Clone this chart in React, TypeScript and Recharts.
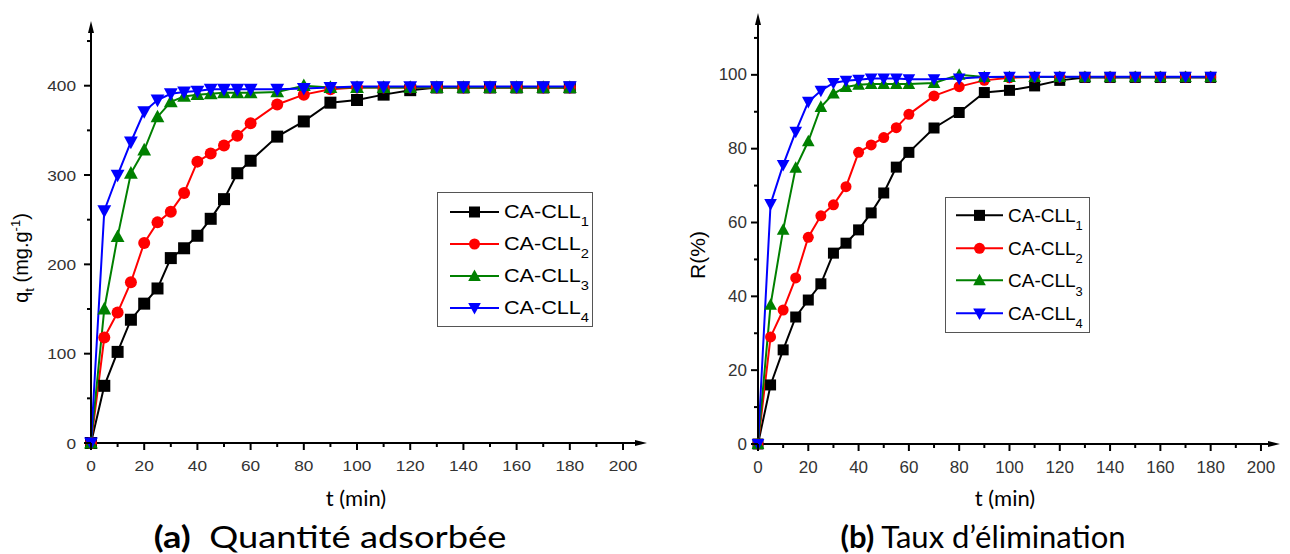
import React from "react";
import { LineChart, Line, XAxis, YAxis, Legend } from "recharts";

// sampling times (min)
const times = [0, 5, 10, 15, 20, 25, 30, 35, 40, 45, 50, 55, 60, 70, 80, 90, 100, 110, 120, 130, 140, 150, 160, 170, 180];

// (a) adsorbed quantity q_t (mg/g)
const qCll1 = [0, 64, 102, 138, 156, 173, 207, 218, 232, 251, 273, 302, 316, 343, 360, 381, 384, 390, 395, 398, 398, 398, 398, 398, 398];
const qCll2 = [0, 118, 146, 180, 224, 247, 259, 280, 315, 324, 333, 344, 358, 379, 390, 396, 398, 398, 398, 398, 398, 398, 398, 398, 398];
const qCll3 = [0, 150, 231, 302, 328, 365, 382, 388, 390, 391, 392, 392, 392, 393, 400, 398, 398, 398, 398, 398, 398, 398, 398, 398, 398];
const qCll4 = [0, 260, 300, 337, 371, 384, 391, 393, 394, 396, 396, 396, 396, 396, 397, 398, 399, 399, 399, 399, 399, 399, 399, 399, 399];

// (b) removal rate R (%)
const rCll1 = [0, 16, 25.5, 34.4, 39, 43.4, 51.7, 54.4, 58, 62.6, 68, 75, 79, 85.6, 89.8, 95.2, 95.8, 97, 98.5, 99.3, 99.3, 99.3, 99.3, 99.3, 99.3];
const rCll2 = [0, 29, 36.3, 45, 56, 61.8, 64.8, 69.7, 79, 81, 83, 85.7, 89.3, 94.3, 96.8, 98.5, 99.2, 99.4, 99.4, 99.4, 99.4, 99.4, 99.4, 99.4, 99.4];
const rCll3 = [0, 37.7, 58, 74.8, 82, 91.3, 94.9, 96.7, 97.3, 97.5, 97.5, 97.5, 97.5, 97.8, 100, 99.4, 99.4, 99.4, 99.4, 99.4, 99.4, 99.4, 99.4, 99.4, 99.4];
const rCll4 = [0, 65, 75.6, 84.6, 92.7, 95.7, 97.8, 98.4, 98.7, 99, 99, 99, 98.8, 98.8, 99, 99.4, 99.5, 99.5, 99.5, 99.5, 99.5, 99.5, 99.5, 99.5, 99.5];

const seriesKeys = ["c1", "c2", "c3", "c4"];
const seriesSubs = ["1", "2", "3", "4"];
const seriesColors = ["#000000", "#ff0000", "#008000", "#0000ff"];
const seriesShapes = ["square", "circle", "up", "down"];

const xTicks = [0, 10, 20, 30, 40, 50, 60, 70, 80, 90, 100, 110, 120, 130, 140, 150, 160, 170, 180, 190, 200];
const qTicks = [0, 50, 100, 150, 200, 250, 300, 350, 400, 450];
const rTicks = [0, 10, 20, 30, 40, 50, 60, 70, 80, 90, 100, 110];

const qData = times.map((t, i) => ({ t, c1: qCll1[i], c2: qCll2[i], c3: qCll3[i], c4: qCll4[i] }));
const rData = times.map((t, i) => ({ t, c1: rCll1[i], c2: rCll2[i], c3: rCll3[i], c4: rCll4[i] }));

const ARIAL = "'Liberation Sans', Arial, sans-serif";
const CAPTION = "Lato, 'Open Sans', sans-serif";

function Marker({ shape, cx, cy, size, color }: any) {
  const h = size / 2;
  if (shape === "square") return <rect x={cx - h} y={cy - h} width={size} height={size} fill={color} />;
  if (shape === "circle") return <circle cx={cx} cy={cy} r={h} fill={color} />;
  const k = shape === "up" ? 1 : -1;
  const pts = `${cx - h * 1.15},${cy + k * h * 0.9} ${cx + h * 1.15},${cy + k * h * 0.9} ${cx},${cy - k * h * 1.2}`;
  return <polygon points={pts} fill={color} />;
}

const makeXTick = (font: number, sx: number, gap: number) => (props: any) => {
  const { x, y, payload } = props;
  const v = payload.value;
  const major = v % 20 === 0;
  return (
    <g>
      <line x1={x} y1={y} x2={x} y2={y + (major ? 7 : 4)} stroke="#000" strokeWidth={2} />
      {major && (
        <text
          transform={`translate(${x},${y + gap}) scale(${sx},1)`}
          textAnchor="middle"
          dominantBaseline="central"
          fontSize={font}
          fontFamily={ARIAL}
          fill="#333"
        >
          {v}
        </text>
      )}
    </g>
  );
};

const makeYTick = (font: number, sx: number, gap: number, step: number) => (props: any) => {
  const { x, y, payload } = props;
  const v = payload.value;
  const major = v % step === 0;
  return (
    <g>
      <line x1={x} y1={y} x2={x - (major ? 7 : 4)} y2={y} stroke="#000" strokeWidth={2} />
      {major && (
        <text
          transform={`translate(${x - gap},${y}) scale(${sx},1)`}
          textAnchor="end"
          dominantBaseline="central"
          fontSize={font}
          fontFamily={ARIAL}
          fill="#333"
        >
          {v}
        </text>
      )}
    </g>
  );
};

const makeLegend = (font: number, sx: number, rowH: number, padTop: number, x1: number, x2: number, msize: number) => (props: any) => {
  const payload = props.payload || [];
  return (
    <div
      style={{
        width: "100%",
        height: "100%",
        boxSizing: "border-box",
        border: "1px solid #555",
        background: "#fff",
        paddingTop: padTop,
      }}
    >
      {payload.map((entry: any) => {
        const i = seriesKeys.indexOf(entry.dataKey);
        return (
          <div key={entry.dataKey} style={{ height: rowH, display: "flex", alignItems: "center" }}>
            <svg width={x2 + 1} height={rowH} style={{ display: "block", flex: "none" }}>
              <line x1={x1} x2={x2} y1={rowH / 2} y2={rowH / 2} stroke={seriesColors[i]} strokeWidth={2} />
              <Marker shape={seriesShapes[i]} cx={(x1 + x2) / 2} cy={rowH / 2} size={msize} color={seriesColors[i]} />
            </svg>
            <span
              style={{
                fontFamily: ARIAL,
                fontSize: font,
                color: "#000",
                marginLeft: 4,
                whiteSpace: "nowrap",
                lineHeight: 1,
                display: "inline-block",
                transform: `scaleX(${sx})`,
                transformOrigin: "left center",
              }}
            >
              CA-CLL
              <span style={{ fontSize: font * 0.68, position: "relative", top: font * 0.45 }}>{seriesSubs[i]}</span>
            </span>
          </div>
        );
      })}
    </div>
  );
};

function Panel(p: any) {
  return (
    <LineChart width={p.width} height={p.height} data={p.data} margin={p.margin}>
      <defs>
        <marker
          id={p.arrowId}
          viewBox="0 0 12 6"
          refX={0}
          refY={3}
          markerWidth={6}
          markerHeight={3}
          orient="auto-start-reverse"
        >
          <path d="M0,0 L12,3 L0,6 z" fill="#000" />
        </marker>
      </defs>
      <XAxis
        dataKey="t"
        type="number"
        domain={p.xDomain}
        ticks={xTicks}
        interval={0}
        height={p.xHeight}
        tickSize={0}
        tickMargin={0}
        tickLine={false}
        axisLine={{ stroke: "#000", strokeWidth: 2, markerEnd: `url(#${p.arrowId})` }}
        tick={makeXTick(p.tickFont, p.tickScale, p.xGap)}
      />
      <YAxis
        type="number"
        domain={p.yDomain}
        ticks={p.yTicks}
        interval={0}
        width={p.yWidth}
        tickSize={0}
        tickMargin={0}
        tickLine={false}
        axisLine={{ stroke: "#000", strokeWidth: 2, markerStart: `url(#${p.arrowId})` }}
        tick={makeYTick(p.tickFont, p.tickScale, p.yGap, p.yStep)}
      />
      <Legend
        layout="horizontal"
        verticalAlign="middle"
        align="center"
        wrapperStyle={p.legendStyle}
        content={makeLegend(p.legendFont, p.legendScale, p.rowH, p.padTop, p.lx1, p.lx2, 11)}
      />
      {seriesKeys.map((k, i) => (
        <Line
          key={k}
          dataKey={k}
          name={`CA-CLL${seriesSubs[i]}`}
          type="linear"
          stroke={seriesColors[i]}
          strokeWidth={2}
          isAnimationActive={false}
          activeDot={false}
          dot={(d: any) => (
            <Marker
              key={`${k}-${d.index}`}
              shape={seriesShapes[i]}
              cx={d.cx}
              cy={d.cy}
              size={p.markerSize}
              color={seriesColors[i]}
            />
          )}
        />
      ))}
    </LineChart>
  );
}

function Centered({ x, y, style, children }: any) {
  return (
    <div
      style={{
        position: "absolute",
        left: x,
        top: y,
        transform: "translate(-50%, -50%)",
        whiteSpace: "nowrap",
        lineHeight: 1,
        ...style,
      }}
    >
      {children}
    </div>
  );
}

export default function App() {
  return (
    <div
      style={{
        position: "absolute",
        left: 0,
        top: 0,
        width: 1290,
        height: 554,
        background: "#fff",
        overflow: "hidden",
      }}
    >
      <div style={{ position: "absolute", left: 0, top: 0 }}>
        <Panel
          data={qData}
          width={660}
          height={475}
          margin={{ top: 33, right: 25, bottom: 0, left: 31 }}
          yWidth={60}
          xHeight={32}
          xDomain={[0, 204.5]}
          yDomain={[0, 459]}
          yTicks={qTicks}
          yStep={100}
          tickFont={15}
          tickScale={1.15}
          xGap={22}
          yGap={15}
          markerSize={12}
          arrowId="arrowA"
          legendStyle={{ left: 437, top: 192, width: 156, height: 135 }}
          legendFont={18}
          legendScale={1.2}
          rowH={32}
          padTop={3}
          lx1={12}
          lx2={61}
        />
      </div>
      <div style={{ position: "absolute", left: 660, top: 0 }}>
        <Panel
          data={rData}
          width={630}
          height={475}
          margin={{ top: 25, right: 22, bottom: 0, left: 38 }}
          yWidth={60}
          xHeight={31}
          xDomain={[0, 202.8]}
          yDomain={[0, 113.5]}
          yTicks={rTicks}
          yStep={20}
          tickFont={17}
          tickScale={1}
          xGap={23}
          yGap={11}
          markerSize={11}
          arrowId="arrowB"
          legendStyle={{ left: 285, top: 197, width: 145, height: 136 }}
          legendFont={19}
          legendScale={1}
          rowH={32.7}
          padTop={1}
          lx1={10}
          lx2={57}
        />
      </div>

      <Centered x={21} y={258} style={{ transform: "translate(-50%, -50%) rotate(-90deg)", fontFamily: ARIAL, fontSize: 20, color: "#000" }}>
        q<span style={{ fontSize: 13, position: "relative", top: 6 }}>t</span> (mg.g
        <span style={{ fontSize: 13, position: "relative", top: -8 }}>-1</span>)
      </Centered>
      <Centered x={697} y={255} style={{ transform: "translate(-50%, -50%) rotate(-90deg)", fontFamily: ARIAL, fontSize: 21, color: "#000" }}>
        R(%)
      </Centered>

      <Centered x={356} y={498} style={{ fontFamily: CAPTION, fontSize: 22, color: "#000" }}>
        t (min)
      </Centered>
      <Centered x={1005} y={498} style={{ fontFamily: CAPTION, fontSize: 22, color: "#000" }}>
        t (min)
      </Centered>

      <Centered x={330} y={536} style={{ fontFamily: CAPTION, fontSize: 31, color: "#000", transform: "translate(-50%, -50%) scaleX(1.17)" }}>
        <b>(a)</b>
        {"\u00a0\u00a0Quantité adsorbée"}
      </Centered>
      <Centered x={983} y={536} style={{ fontFamily: CAPTION, fontSize: 31, color: "#000" }}>
        <b>(b)</b>
        {" Taux d’élimination"}
      </Centered>
    </div>
  );
}
